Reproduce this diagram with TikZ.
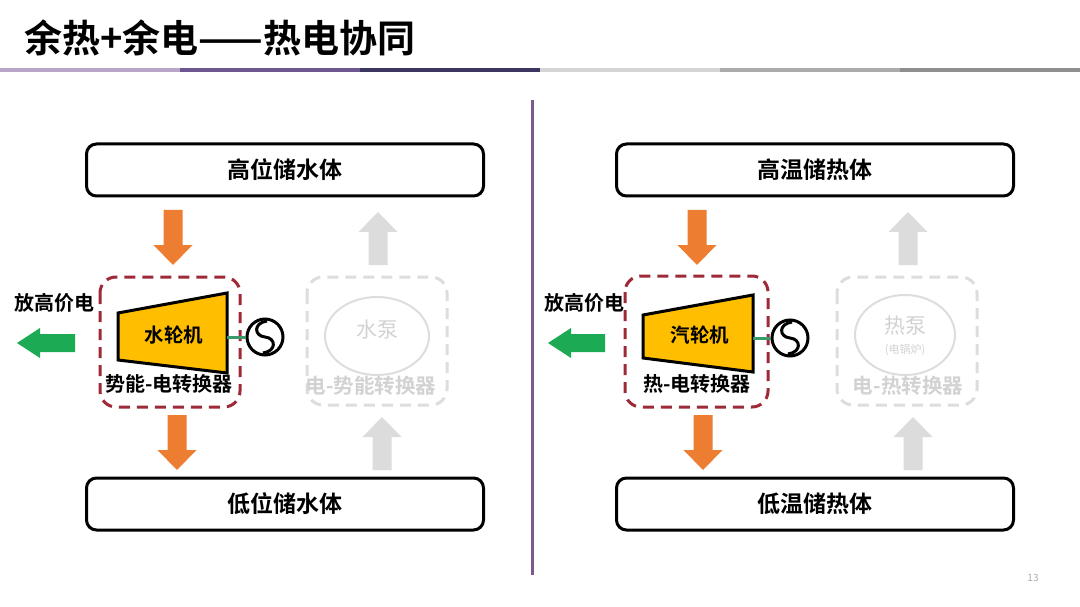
\documentclass[tikz,border=0pt]{standalone}
\usepackage{fontspec}
\setmainfont{Noto Sans CJK SC}[BoldFont={Noto Sans CJK SC Bold}]
\usetikzlibrary{calc}
\definecolor{arrOrange}{HTML}{ED7D31}
\definecolor{arrGreen}{HTML}{1DAA55}
\definecolor{arrGray}{HTML}{DCDCDC}
\definecolor{gold}{HTML}{FFBF00}
\definecolor{convRed}{HTML}{9E2A38}
\definecolor{fadeLine}{HTML}{DDDDDD}
\definecolor{fadeText}{HTML}{D2D2D2}
\definecolor{divider}{HTML}{7B5A8C}
\definecolor{linkGreen}{HTML}{3A9A6A}
\definecolor{barA}{HTML}{B9A5C8}
\definecolor{barB}{HTML}{6E5690}
\definecolor{barC}{HTML}{3B3660}
\definecolor{barD}{HTML}{D4D4D4}
\definecolor{barE}{HTML}{ABABAB}
\definecolor{barF}{HTML}{8E8E8E}
\newcommand{\blkdown}[4]{\fill[#4] ({#1-9.5},#2) -- ({#1+9.5},#2) -- ({#1+9.5},{#3-20}) -- ({#1+19.5},{#3-20}) -- (#1,#3) -- ({#1-19.5},{#3-20}) -- ({#1-9.5},{#3-20}) -- cycle;}
\newcommand{\blkup}[4]{\fill[#4] ({#1-9.5},#3) -- ({#1+9.5},#3) -- ({#1+9.5},{#2+20}) -- ({#1+19.5},{#2+20}) -- (#1,#2) -- ({#1-19.5},{#2+20}) -- ({#1-9.5},{#2+20}) -- cycle;}
\newcommand{\blkleft}[4]{\fill[#4] (#1,#3) -- ({#1+23},{#3-15}) -- ({#1+23},{#3-9}) -- (#2,{#3-9}) -- (#2,{#3+9}) -- ({#1+23},{#3+9}) -- ({#1+23},{#3+15}) -- cycle;}
\newcommand{\swave}[1]{%
  \draw[line width=3pt] ($(#1.center)+(2,-16)$) .. controls ($(#1.center)+(-12,-14)$) and ($(#1.center)+(-11,-1)$) .. (#1.center) .. controls ($(#1.center)+(11,1)$) and ($(#1.center)+(12,14)$) .. ($(#1.center)+(-2,16)$);}
\begin{document}
\begin{tikzpicture}[x=1pt,y=-1pt,
  store/.style={draw=black, line width=3pt, rounded corners=10pt, minimum width=397pt, minimum height=52pt, font=\fontsize{23}{27}\selectfont\bfseries},
  convbox/.style={draw=convRed, line width=3pt, dash pattern=on 11pt off 7pt, rounded corners=16pt},
  fadebox/.style={draw=fadeLine, line width=3pt, dash pattern=on 11pt off 7pt, rounded corners=16pt},
  lbl/.style={font=\fontsize{20}{23}\selectfont\bfseries, inner sep=0pt},
  fadelbl/.style={font=\fontsize{20.5}{23}\selectfont\bfseries, text=fadeText, inner sep=0pt},
  turb/.style={draw=black, line width=3pt, fill=gold, line join=miter},
  gen/.style={draw=black, circle, line width=3pt, minimum size=36pt, inner sep=0pt}
]
\useasboundingbox (0,0) rectangle (1080,607);
\fill[white] (0,0) rectangle (1080,607);
% title
\node[anchor=west, inner sep=0pt] (title) at (24,38) {\fontsize{38}{42}\selectfont\bfseries 余热+余电——热电协同};
% colour bar
\fill[barA] (0,68) rectangle (180,72);
\fill[barB] (180,68) rectangle (360,72);
\fill[barC] (360,68) rectangle (540,72);
\fill[barD] (540,68) rectangle (720,72);
\fill[barE] (720,68) rectangle (900,72);
\fill[barF] (900,68) rectangle (1080,72);
% divider
\draw[divider, line width=3pt] (532,100) -- (532,575);

% ===== LEFT =====
\node[store] (htopL) at (285,170) {高位储水体};
\node[store] (hbotL) at (285,504) {低位储水体};
\blkdown{173}{210}{265}{arrOrange}
\blkdown{177}{415}{470}{arrOrange}
\blkup{378}{212}{265}{arrGray}
\blkup{382}{417}{470}{arrGray}
\draw[convbox] (100,277) rectangle (240,407);
\draw[turb] (118,313) -- (227,293) -- (227,373) -- (118,360) -- cycle;
\node[lbl, font=\fontsize{19.5}{23}\selectfont\bfseries] (turbL) at (174,335) {水轮机};
\coordinate (tRL) at (227,337);
\node[gen] (genL) at (265,337) {};
\draw[linkGreen, line width=3pt] (tRL) -- (genL.west);
\swave{genL}
\node[lbl] (convL) at (169,384) {势能-电转换器};
\node[lbl] (sellL) at (54,303) {放高价电};
\blkleft{17}{75}{343}{arrGreen}
\draw[fadebox] (307,277) rectangle (447,405);
\draw[fadeLine, line width=2pt] (377,336) ellipse (52 and 39);
\node[text=fadeText, font=\fontsize{21}{24}\selectfont] (pumpL) at (377,330) {水泵};
\node[fadelbl] (convL2) at (371,386) {电-势能转换器};

% ===== RIGHT =====
\node[store] (htopR) at (815,170) {高温储热体};
\node[store] (hbotR) at (815,504) {低温储热体};
\blkdown{697}{210}{265}{arrOrange}
\blkdown{703}{415}{470}{arrOrange}
\blkup{908}{212}{265}{arrGray}
\blkup{913}{417}{470}{arrGray}
\draw[convbox] (625,276) rectangle (768,407);
\draw[turb] (643,315) -- (753,295) -- (753,372) -- (643,358) -- cycle;
\node[lbl, font=\fontsize{19.5}{23}\selectfont\bfseries] (turbR) at (700,335) {汽轮机};
\coordinate (tRR) at (753,338);
\node[gen] (genR) at (790,338) {};
\draw[linkGreen, line width=3pt] (tRR) -- (genR.west);
\swave{genR}
\node[lbl] (convR) at (697,384) {热-电转换器};
\node[lbl] (sellR) at (584,303) {放高价电};
\blkleft{548}{605}{343}{arrGreen}
\draw[fadebox] (837,277) rectangle (977,405);
\draw[fadeLine, line width=2pt] (905,335) ellipse (50 and 40);
\node[text=fadeText, font=\fontsize{21}{24}\selectfont] (pumpR) at (905,326) {热泵};
\node[text=fadeText, font=\fontsize{11}{13}\selectfont] (boilR) at (905,350) {(电锅炉)};
\node[fadelbl] (convR2) at (908,386) {电-热转换器};

% page number
\node[text=barD!80!black, font=\fontsize{10}{12}\selectfont] (pg) at (1033,578) {13};
\end{tikzpicture}
\end{document}
